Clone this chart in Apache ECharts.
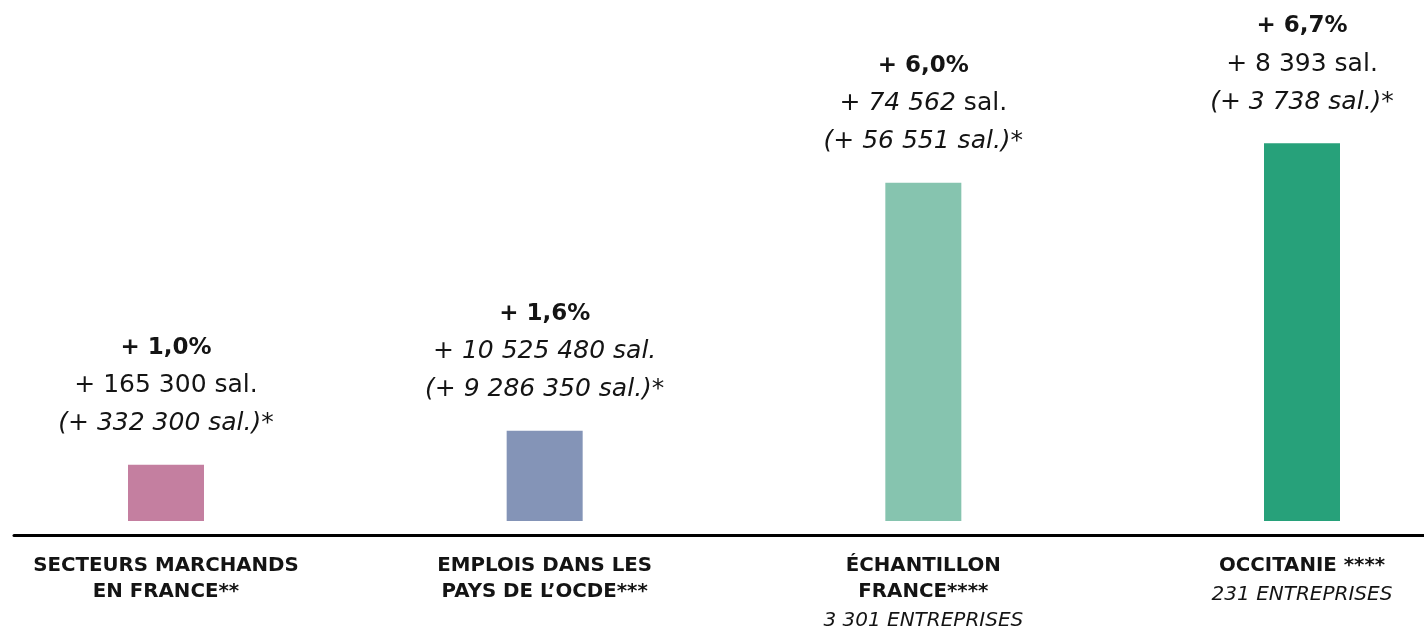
<!DOCTYPE html>
<html>
<head>
<meta charset="utf-8">
<script src="https://cdn.jsdelivr.net/npm/echarts@6/dist/echarts.min.js"></script>
<style>
html,body{margin:0;padding:0;background:#fff;}
#chart{width:1424px;height:634px;}
</style>
</head>
<body>
<div id="chart"></div>
<script>
// ---- data ----
const categories = ['SECTEURS MARCHANDS\nEN FRANCE**', 'EMPLOIS DANS LES\nPAYS DE L\u2019OCDE***', '\u00C9CHANTILLON\nFRANCE****', 'OCCITANIE ****'];
const subLabels = ['', '', '3 301 ENTREPRISES', '231 ENTREPRISES'];
const growthPct = [1.0, 1.6, 6.0, 6.7];
const growthPctText = ['+ 1,0%', '+ 1,6%', '+ 6,0%', '+ 6,7%'];
const jobsGain = ['+ 165 300', '+ 10 525 480', '+ 74 562', '+ 8 393'];
const jobsGainAlt = ['(+ 332 300 sal.)*', '(+ 9 286 350 sal.)*', '(+ 56 551 sal.)*', '(+ 3 738 sal.)*'];

// ---- styling ----
const barColors = ['#C47FA0', '#8494B7', '#86C4AF', '#27A17A'];
const textColor = '#141414';
const FONT = '"DejaVu Sans", sans-serif';

function jobsLine(i) {
  // line 2 typography varies per bar in the reference
  if (i === 1) return '{it|' + jobsGain[i] + ' sal.}';
  if (i === 2) return '{it|' + jobsGain[i] + '}{rg| sal.}';
  return '{rg|' + jobsGain[i] + ' sal.}';
}

const chart = echarts.init(document.getElementById('chart'), null, {renderer: 'canvas'});
const option = {
  backgroundColor: '#ffffff',
  animation: false,
  grid: [
    {left: 166, right: 122, top: 70, bottom: 113, containLabel: false},
    {left: 14, right: 0, bottom: 99, height: 10, containLabel: false}
  ],
  xAxis: [
    {
      type: 'category', gridIndex: 0, data: categories, boundaryGap: false,
      axisLine: {show: false}, axisTick: {show: false},
      axisLabel: {
        interval: 0, margin: 32,
        formatter: function (v, i) {
          const lines = v.split('\n').map(s => '{b|' + s + '}');
          if (subLabels[i]) lines.push('{i|' + subLabels[i] + '}');
          return lines.join('\n');
        },
        rich: {
          b: {fontFamily: FONT, fontWeight: 'bold', fontSize: 19.8, color: textColor, lineHeight: 26},
          i: {fontFamily: FONT, fontStyle: 'italic', fontSize: 20, color: textColor, lineHeight: 31}
        }
      }
    },
    {
      type: 'value', gridIndex: 1, min: 0, max: 1,
      axisLine: {show: true, lineStyle: {color: '#000', width: 3}},
      axisTick: {show: false}, axisLabel: {show: false}, splitLine: {show: false}
    }
  ],
  yAxis: [
    {type: 'value', gridIndex: 0, min: 0, max: 8, show: false, splitLine: {show: false}},
    {type: 'value', gridIndex: 1, min: 0, max: 1, show: false, splitLine: {show: false}}
  ],
  series: [{
    type: 'bar', xAxisIndex: 0, yAxisIndex: 0, barWidth: 76,
    data: growthPct.map((v, i) => ({value: v, itemStyle: {color: barColors[i]}})),
    label: {
      show: true, position: 'top', distance: 22,
      formatter: function (p) {
        const i = p.dataIndex;
        return '{bd|' + growthPctText[i] + '}\n' + jobsLine(i) + '\n{it|' + jobsGainAlt[i] + '}';
      },
      rich: {
        bd: {fontFamily: FONT, fontWeight: 'bold', fontSize: 23, color: textColor, lineHeight: 38},
        rg: {fontFamily: FONT, fontSize: 25, color: textColor, lineHeight: 38},
        it: {fontFamily: FONT, fontStyle: 'italic', fontSize: 25, color: textColor, lineHeight: 38}
      }
    }
  }]
};
chart.setOption(option);
</script>
</body>
</html>
